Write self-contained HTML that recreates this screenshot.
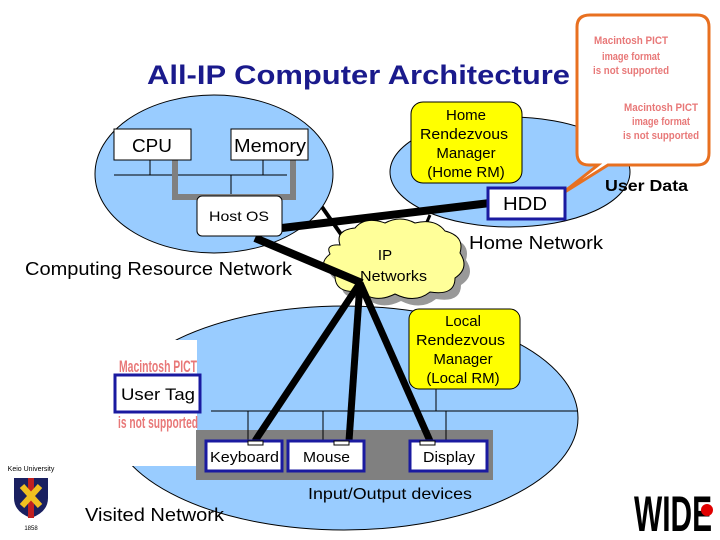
<!DOCTYPE html>
<html><head><meta charset="utf-8"><style>
html,body{margin:0;padding:0;background:#fff}
svg{display:block}
text{font-family:"Liberation Sans",sans-serif}
</style></head><body>
<svg width="720" height="540" viewBox="0 0 720 540" xmlns="http://www.w3.org/2000/svg">
<ellipse cx="214" cy="174" rx="119" ry="79" fill="#99ccff" stroke="#000" stroke-width="1"/>
<ellipse cx="510" cy="172" rx="120" ry="55" fill="#99ccff" stroke="#000" stroke-width="1"/>
<ellipse cx="344" cy="418" rx="234" ry="112" fill="#99ccff" stroke="#000" stroke-width="1"/>
<rect x="100" y="340" width="97" height="126" fill="#fff"/>
<text x="147" y="84" font-size="27" font-weight="bold" fill="#1a1a8c" textLength="423" lengthAdjust="spacingAndGlyphs">All-IP Computer Architecture</text>
<line x1="114" y1="175" x2="287" y2="175" stroke="#000"/>
<line x1="150" y1="160" x2="150" y2="175" stroke="#000"/>
<line x1="263" y1="160" x2="263" y2="175" stroke="#000"/>
<line x1="231" y1="175" x2="231" y2="197" stroke="#000"/>
<polyline points="175,160 175,197 293,197 293,160" fill="none" stroke="#808080" stroke-width="6"/>
<rect x="114" y="129" width="77" height="31" fill="#fff" stroke="#000"/>
<text x="132" y="152" font-size="18" textLength="40" lengthAdjust="spacingAndGlyphs">CPU</text>
<rect x="231" y="129" width="77" height="31" fill="#fff" stroke="#000"/>
<text x="234" y="152" font-size="18" textLength="72" lengthAdjust="spacingAndGlyphs">Memory</text>
<line x1="322" y1="207" x2="345" y2="240" stroke="#000" stroke-width="4"/>
<line x1="420" y1="238" x2="430" y2="215" stroke="#000" stroke-width="3"/>
<line x1="282" y1="228" x2="490" y2="203" stroke="#000" stroke-width="8"/>
<g transform="translate(6,7)" fill="#999">
<path d="M340,245 q-5,-15 15,-17 q10,-12 30,-5 q15,-8 30,0 q20,-5 30,8 q20,5 15,22 q10,15 -5,25 q0,18 -25,14 q-15,12 -35,2 q-20,10 -35,-3 q-25,3 -25,-15 q-20,-10 -5,-22 q-5,-10 10,-9z"/>
</g>
<path d="M340,245 q-5,-15 15,-17 q10,-12 30,-5 q15,-8 30,0 q20,-5 30,8 q20,5 15,22 q10,15 -5,25 q0,18 -25,14 q-15,12 -35,2 q-20,10 -35,-3 q-25,3 -25,-15 q-20,-10 -5,-22 q-5,-10 10,-9z" fill="#ffff99" stroke="#000" stroke-width="1"/>
<text x="385" y="260" font-size="15" text-anchor="middle">IP</text>
<text x="360" y="281" font-size="15" textLength="67" lengthAdjust="spacingAndGlyphs">Networks</text>
<line x1="255" y1="238" x2="362" y2="283" stroke="#000" stroke-width="8"/>
<rect x="197" y="196" width="85" height="40" rx="5" fill="#fff" stroke="#000"/>
<text x="209" y="221" font-size="14" textLength="60" lengthAdjust="spacingAndGlyphs">Host OS</text>
<text x="25" y="275" font-size="18" textLength="267" lengthAdjust="spacingAndGlyphs">Computing Resource Network</text>
<rect x="411" y="102" width="111" height="81" rx="12" fill="#ffff00" stroke="#000"/>
<text x="466" y="120" font-size="15" text-anchor="middle">Home</text>
<text x="420" y="139" font-size="15" textLength="88" lengthAdjust="spacingAndGlyphs">Rendezvous</text>
<text x="466" y="158" font-size="15" text-anchor="middle">Manager</text>
<text x="466" y="177" font-size="15" text-anchor="middle">(Home RM)</text>
<path d="M590,15 H697 Q709,15 709,27 V153 Q709,165 697,165 H608 L560,195 L598,165 H589 Q577,165 577,153 V27 Q577,15 590,15 Z" fill="#fff" stroke="#e87020" stroke-width="3"/>
<g font-size="11" font-weight="bold" fill="#e87878" text-anchor="middle">
<text x="631" y="44" textLength="74" lengthAdjust="spacingAndGlyphs">Macintosh PICT</text>
<text x="631" y="60" textLength="58" lengthAdjust="spacingAndGlyphs">image format</text>
<text x="631" y="74" textLength="76" lengthAdjust="spacingAndGlyphs">is not supported</text>
<text x="661" y="111" textLength="74" lengthAdjust="spacingAndGlyphs">Macintosh PICT</text>
<text x="661" y="125" textLength="58" lengthAdjust="spacingAndGlyphs">image format</text>
<text x="661" y="139" textLength="76" lengthAdjust="spacingAndGlyphs">is not supported</text>
</g>
<rect x="488" y="188" width="77" height="31" fill="#fff" stroke="#1a1aa0" stroke-width="3"/>
<text x="503" y="210" font-size="18" textLength="44" lengthAdjust="spacingAndGlyphs">HDD</text>
<text x="605" y="191" font-size="16" font-weight="bold" textLength="83" lengthAdjust="spacingAndGlyphs">User Data</text>
<text x="469" y="249" font-size="18" textLength="134" lengthAdjust="spacingAndGlyphs">Home Network</text>
<line x1="436" y1="389" x2="436" y2="411" stroke="#000"/>
<rect x="409" y="309" width="111" height="80" rx="10" fill="#ffff00" stroke="#000"/>
<text x="463" y="326" font-size="15" text-anchor="middle">Local</text>
<text x="416" y="345" font-size="15" textLength="89" lengthAdjust="spacingAndGlyphs">Rendezvous</text>
<text x="463" y="364" font-size="15" text-anchor="middle">Manager</text>
<text x="463" y="383" font-size="15" text-anchor="middle">(Local RM)</text>
<rect x="196" y="430" width="297" height="50" fill="#808080"/>
<line x1="211" y1="411" x2="578" y2="411" stroke="#000"/>
<line x1="248" y1="411" x2="248" y2="441" stroke="#000"/>
<line x1="323" y1="411" x2="323" y2="441" stroke="#000"/>
<line x1="446" y1="411" x2="446" y2="441" stroke="#000"/>
<line x1="360" y1="283" x2="255" y2="441" stroke="#000" stroke-width="7"/>
<line x1="360" y1="283" x2="349" y2="441" stroke="#000" stroke-width="7"/>
<line x1="360" y1="283" x2="430" y2="441" stroke="#000" stroke-width="7"/>
<rect x="206" y="441" width="76" height="30" fill="#fff" stroke="#1a1aa0" stroke-width="3"/>
<text x="210" y="462" font-size="15" textLength="69" lengthAdjust="spacingAndGlyphs">Keyboard</text>
<rect x="288" y="441" width="76" height="30" fill="#fff" stroke="#1a1aa0" stroke-width="3"/>
<text x="303" y="462" font-size="15" textLength="47" lengthAdjust="spacingAndGlyphs">Mouse</text>
<rect x="410" y="441" width="77" height="30" fill="#fff" stroke="#1a1aa0" stroke-width="3"/>
<text x="423" y="462" font-size="15" textLength="52" lengthAdjust="spacingAndGlyphs">Display</text>
<rect x="248" y="441" width="15" height="4" fill="#fff" stroke="#000" stroke-width="1"/>
<rect x="334" y="441" width="15" height="4" fill="#fff" stroke="#000" stroke-width="1"/>
<rect x="420" y="441" width="15" height="4" fill="#fff" stroke="#000" stroke-width="1"/>
<text x="308" y="499" font-size="16" textLength="164" lengthAdjust="spacingAndGlyphs">Input/Output devices</text>
<text x="158" y="372" font-size="17" fill="#e87878" text-anchor="middle" font-weight="bold" textLength="78" lengthAdjust="spacingAndGlyphs">Macintosh PICT</text>
<text x="158" y="428" font-size="17" fill="#e87878" text-anchor="middle" font-weight="bold" textLength="80" lengthAdjust="spacingAndGlyphs">is not supported</text>
<rect x="115" y="375" width="85" height="37" fill="#fff" stroke="#1a1aa0" stroke-width="3"/>
<text x="121" y="400" font-size="17" textLength="74" lengthAdjust="spacingAndGlyphs">User Tag</text>
<text x="85" y="521" font-size="18" textLength="139" lengthAdjust="spacingAndGlyphs">Visited Network</text>
<text x="31" y="471" font-size="7" text-anchor="middle" font-family="Liberation Serif">Keio University</text>
<path d="M14,478 H48 V498 Q48,512 31,518 Q14,512 14,498 Z" fill="#1a2060"/>
<rect x="28" y="478" width="6" height="40" fill="#c02020"/>
<path d="M22,486 L40,506 M40,486 L22,506" stroke="#f0c020" stroke-width="6"/>
<text x="31" y="530" font-size="6" text-anchor="middle">1858</text>
<text x="634" y="531" font-size="50" font-weight="bold" textLength="78" lengthAdjust="spacingAndGlyphs">WIDE</text>
<circle cx="707" cy="510" r="6" fill="#e00000"/>
</svg>
</body></html>
